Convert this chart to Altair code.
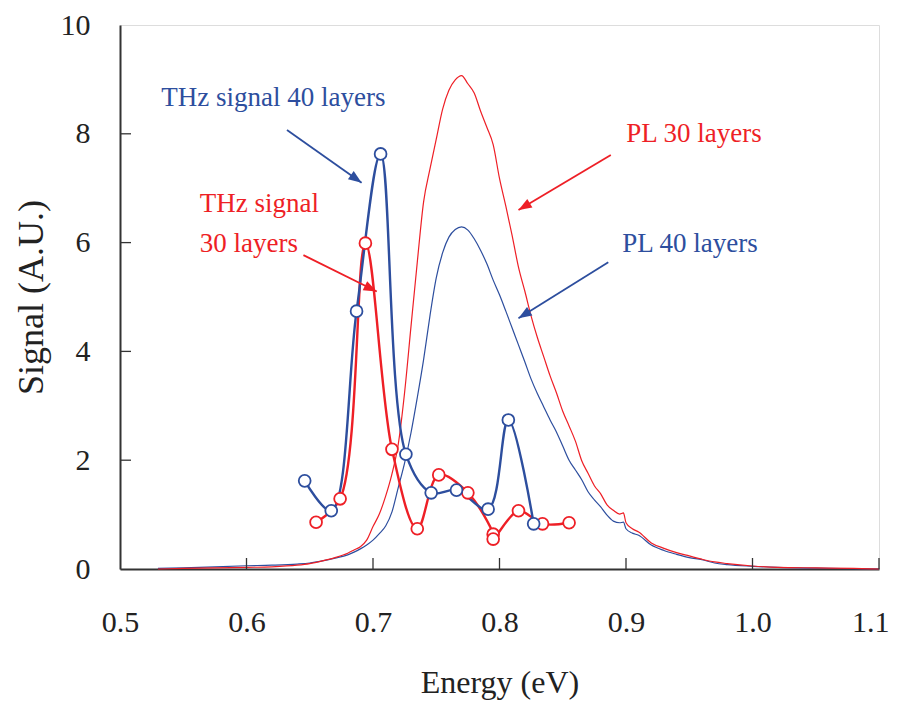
import math
import altair as alt
import pandas as pd

# ---------------- data ----------------
PL_X = [0.530, 0.550, 0.600, 0.620, 0.640, 0.650, 0.660, 0.670, 0.680, 0.685,
        0.690, 0.695, 0.700, 0.705, 0.710, 0.715, 0.720, 0.725, 0.730, 0.735,
        0.740, 0.745, 0.750, 0.755, 0.760, 0.765, 0.770, 0.775, 0.780, 0.785,
        0.790, 0.795, 0.800, 0.805, 0.810, 0.815, 0.820, 0.825, 0.830, 0.835,
        0.840, 0.845, 0.850, 0.855, 0.860, 0.865, 0.870, 0.875, 0.880, 0.885,
        0.890, 0.895, 0.898, 0.900, 0.905, 0.910, 0.920, 0.930, 0.940, 0.950,
        0.960, 0.970, 0.980, 1.000, 1.020, 1.050, 1.080, 1.100]
PL30_Y = [0.00, 0.01, 0.03, 0.04, 0.07, 0.10, 0.15, 0.21, 0.29, 0.35,
          0.41, 0.53, 0.78, 1.01, 1.34, 1.75, 2.30, 3.25, 4.45, 5.64,
          6.75, 7.35, 7.90, 8.45, 8.80, 8.99, 9.07, 8.92, 8.75, 8.42,
          8.12, 7.80, 7.18, 6.67, 6.13, 5.55, 5.11, 4.65, 4.25, 3.90,
          3.55, 3.24, 2.90, 2.63, 2.35, 1.99, 1.76, 1.53, 1.38, 1.18,
          1.08, 1.01, 1.03, 0.85, 0.74, 0.68, 0.48, 0.38, 0.30, 0.24,
          0.18, 0.13, 0.10, 0.055, 0.03, 0.02, 0.01, 0.00]
PL40_Y = [0.01, 0.02, 0.06, 0.07, 0.09, 0.11, 0.15, 0.20, 0.26, 0.31,
          0.37, 0.44, 0.53, 0.65, 0.79, 1.05, 1.50, 1.95, 2.50, 3.15,
          3.85, 4.65, 5.35, 5.81, 6.10, 6.24, 6.29, 6.23, 6.07, 5.86,
          5.61, 5.31, 5.04, 4.74, 4.43, 4.12, 3.81, 3.49, 3.22, 2.98,
          2.74, 2.52, 2.26, 2.00, 1.82, 1.64, 1.42, 1.27, 1.14, 0.99,
          0.88, 0.85, 0.86, 0.74, 0.66, 0.62, 0.44, 0.34, 0.27, 0.21,
          0.17, 0.11, 0.08, 0.05, 0.03, 0.015, 0.005, 0.00]

THZ40_X = [0.646, 0.667, 0.687, 0.706, 0.726, 0.746, 0.766, 0.791, 0.807, 0.827]
THZ40_Y = [1.62, 1.07, 4.74, 7.63, 2.11, 1.40, 1.45, 1.10, 2.74, 0.83]
THZ30_X = [0.655, 0.674, 0.694, 0.715, 0.735, 0.752, 0.775, 0.795, 0.795, 0.815, 0.834, 0.855]
THZ30_Y = [0.86, 1.29, 5.99, 2.20, 0.74, 1.73, 1.40, 0.64, 0.55, 1.07, 0.83, 0.85]

X_TICKS = [0.5, 0.6, 0.7, 0.8, 0.9, 1.0, 1.1]
Y_TICKS = [0, 2, 4, 6, 8, 10]

LABEL_TEXT = ["THz signal 40 layers", "THz signal", "30 layers", "PL 30 layers", "PL 40 layers"]
LABEL_X = [0.5327, 0.563, 0.563, 0.9002, 0.897]
LABEL_Y = [8.51, 6.56, 5.83, 7.85, 5.83]
LABEL_SERIES = ["b", "r", "r", "r", "b"]

ARROW_TAIL_X = [0.632, 0.645, 0.888, 0.886]
ARROW_TAIL_Y = [8.07, 5.77, 7.61, 5.64]
ARROW_HEAD_X = [0.691, 0.703, 0.815, 0.815]
ARROW_HEAD_Y = [7.10, 5.10, 6.60, 4.61]
ARROW_SERIES = ["b", "r", "r", "b"]

BLUE = "#2d4e9e"
RED = "#ee1f26"
COL = {"b": BLUE, "r": RED}
FONT = "Liberation Serif"

W, H = 759, 544
XDOM = [0.5, 1.1]
YDOM = [0, 10]

# ---------------- tables ----------------
pl = pd.DataFrame({"x": PL_X + PL_X,
                   "y": PL40_Y + PL30_Y,
                   "s": ["PL 40"] * len(PL_X) + ["PL 30"] * len(PL_X),
                   "c": [BLUE] * len(PL_X) + [RED] * len(PL_X)})
thz40 = pd.DataFrame({"x": THZ40_X, "y": THZ40_Y, "o": list(range(len(THZ40_X)))})
thz30 = pd.DataFrame({"x": THZ30_X, "y": THZ30_Y, "o": list(range(len(THZ30_X)))})
labels = pd.DataFrame({"x": LABEL_X, "y": LABEL_Y, "t": LABEL_TEXT,
                       "c": [COL[s] for s in LABEL_SERIES]})

SX = W / (XDOM[1] - XDOM[0])
SY = H / (YDOM[1] - YDOM[0])
angles = []
for tx, ty, hx, hy in zip(ARROW_TAIL_X, ARROW_TAIL_Y, ARROW_HEAD_X, ARROW_HEAD_Y):
    dx = (hx - tx) * SX
    dy = -(hy - ty) * SY
    angles.append(math.degrees(math.atan2(dy, dx)) % 360)
arrows = pd.DataFrame({"x": ARROW_TAIL_X, "y": ARROW_TAIL_Y,
                       "x2": ARROW_HEAD_X, "y2": ARROW_HEAD_Y,
                       "a": angles, "c": [COL[s] for s in ARROW_SERIES]})
xt = pd.DataFrame({"v": X_TICKS[1:]})
yt = pd.DataFrame({"v": Y_TICKS[1:-1]})

xs = alt.Scale(domain=XDOM, nice=False, zero=False)
ys = alt.Scale(domain=YDOM, nice=False)

x_axis = alt.Axis(values=X_TICKS, format=".1f", ticks=False, grid=False,
                  labelFont=FONT, labelFontSize=30, labelColor="#222222",
                  labelPadding=38, labelFlush=False,
                  labelAlign={"condition": {"test": "datum.value > 1.05", "value": "right"},
                              "value": "center"},
                  labelOffset={"condition": {"test": "datum.value > 1.05", "value": 10},
                               "value": 0},
                  domainColor="#333333", domainWidth=2,
                  title="Energy (eV)", titleFont=FONT, titleFontSize=32,
                  titleFontWeight="normal", titleColor="#222222", titlePadding=30)
y_axis = alt.Axis(values=Y_TICKS, format="d", ticks=False, grid=False,
                  labelFont=FONT, labelFontSize=30, labelColor="#222222",
                  labelPadding=30, labelFlush=False,
                  domainColor="#333333", domainWidth=2,
                  title="Signal (A.U.)", titleFont=FONT, titleFontSize=36,
                  titleFontWeight="normal", titleColor="#222222", titlePadding=10)

base_pl = alt.Chart(pl).mark_line(strokeWidth=1.2, interpolate="monotone").encode(
    x=alt.X("x:Q", scale=xs, axis=x_axis),
    y=alt.Y("y:Q", scale=ys, axis=y_axis),
    detail="s:N",
    color=alt.Color("c:N", scale=None),
)

def thz_layers(df, color):
    line = alt.Chart(df).mark_line(color=color, strokeWidth=2.4,
                                   interpolate="catmull-rom").encode(
        x=alt.X("x:Q", scale=xs), y=alt.Y("y:Q", scale=ys), order="o:Q")
    pts = alt.Chart(df).mark_point(shape="circle", size=140, filled=False,
                                   fill="white", fillOpacity=1, color=color,
                                   strokeWidth=1.8, opacity=1).encode(
        x=alt.X("x:Q", scale=xs), y=alt.Y("y:Q", scale=ys))
    return line, pts

l40, p40 = thz_layers(thz40, BLUE)
l30, p30 = thz_layers(thz30, RED)

arrow_lines = alt.Chart(arrows).mark_rule(strokeWidth=1.8).encode(
    x=alt.X("x:Q", scale=xs), y=alt.Y("y:Q", scale=ys),
    x2="x2:Q", y2="y2:Q", color=alt.Color("c:N", scale=None))
arrow_heads = alt.Chart(arrows).mark_point(
    shape="M0,0L-1,-0.38L-1,0.38Z", filled=True, size=700, opacity=1).encode(
    x=alt.X("x2:Q", scale=xs), y=alt.Y("y2:Q", scale=ys),
    angle=alt.Angle("a:Q", scale=None),
    color=alt.Color("c:N", scale=None))

texts = alt.Chart(labels).mark_text(align="left", baseline="alphabetic",
                                    font=FONT, fontSize=27).encode(
    x=alt.X("x:Q", scale=xs), y=alt.Y("y:Q", scale=ys), text="t:N",
    color=alt.Color("c:N", scale=None))

xticks = alt.Chart(xt).mark_rule(color="#333333", strokeWidth=1.3).encode(
    x=alt.X("v:Q", scale=xs), y=alt.value(H), y2=alt.value(H - 11))
yticks = alt.Chart(yt).mark_rule(color="#333333", strokeWidth=1.3).encode(
    y=alt.Y("v:Q", scale=ys), x=alt.value(0), x2=alt.value(11))

chart = alt.layer(base_pl, xticks, yticks, l30, l40, p30, p40,
                  arrow_lines, arrow_heads, texts).properties(
    width=W, height=H,
    padding={"left": 112, "top": 17, "right": 10, "bottom": 132},
    autosize=alt.AutoSizeParams(type="none"),
).configure_view(stroke="#8a8a8a", strokeWidth=2).configure(background="white")

chart.save("out.html", embed_options={"renderer": "svg", "actions": False})
